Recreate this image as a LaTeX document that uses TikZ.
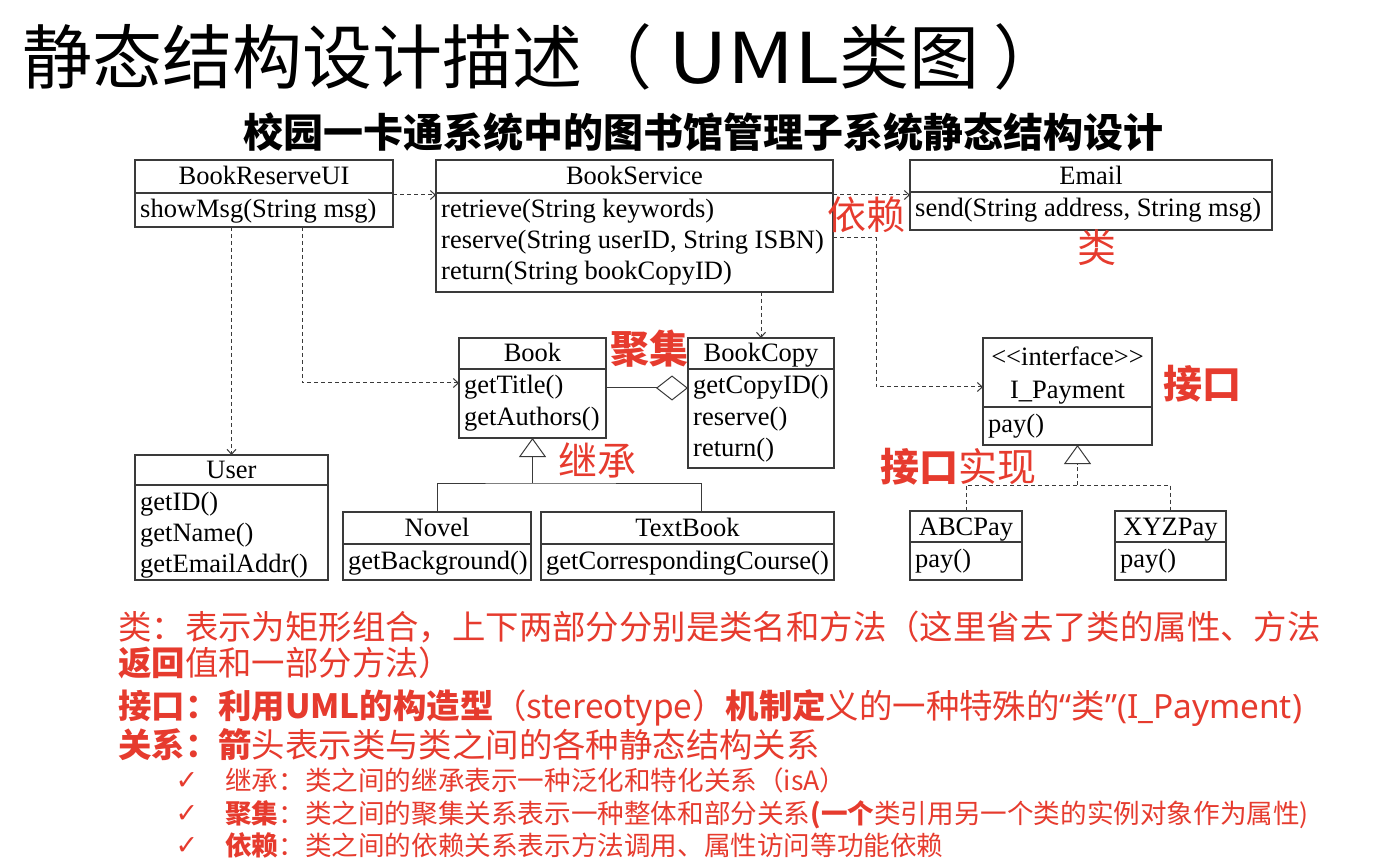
\documentclass[tikz,border=0pt]{standalone}
\usepackage{fontspec}
\setmainfont{Liberation Serif}
\newfontfamily\cjk{Noto Sans CJK SC}
\newfontfamily\latinsans{Noto Sans}
\newfontfamily\symfont{DejaVu Sans}
\usetikzlibrary{arrows.meta,calc}
\definecolor{notered}{HTML}{E63B2E}
\definecolor{boxgray}{HTML}{3A3A3A}

\tikzset{
  classbox/.style={draw=boxgray, line width=1.2pt, inner sep=0pt, outer sep=0pt, fill=white},
  divider/.style={draw=boxgray, line width=1.2pt},
  umltext/.style={font=\fontsize{26.5}{31}\selectfont, inner sep=0pt, text=black},
  umlname/.style={umltext, text height=18pt, text depth=1pt},
  conn/.style={draw=boxgray, line width=1pt},
  dep/.style={conn, dash pattern=on 4pt off 3pt, -{Straight Barb[length=5pt,width=9pt]}},
  gen/.style={conn, -{Triangle[open,fill=white,length=19pt,width=27pt]}},
  realize/.style={conn, dash pattern=on 4pt off 3pt},
  agg/.style={conn, -{Diamond[open,fill=white,length=32pt,width=25pt]}},
  note/.style={text=notered, font=\cjk\fontsize{39}{44}\selectfont, inner sep=0pt},
  explain/.style={text=notered, font=\cjk\fontsize{33.4}{40}\selectfont, inner sep=0pt, anchor=base west},
  subexplain/.style={text=notered, font=\cjk\fontsize{26.6}{32}\selectfont, inner sep=0pt, anchor=base west},
  tick/.style={text=notered, font=\symfont\fontsize{27}{30}\selectfont, inner sep=0pt},
}

% class box: name, left, top, right, divider, bottom, class name, methods
\newcommand{\umlclass}[8]{%
  \node[classbox, anchor=north west, minimum width={(#4)-(#2)}, minimum height={(#6)-(#3)}] (#1) at (#2,#3) {};
  \draw[divider] (#1.west |- 0,#5) -- (#1.east |- 0,#5);
  \node[umlname] (#1-name) at ({(#2+#4)/2},{(#3+#5)/2}) {#7};
  \foreach \m [count=\i] in {#8}
    \node[umltext, anchor=base west] (#1-m\i) at ({#2+5},{#5+25+31*(\i-1)}) {\m};
}

\begin{document}
\begin{tikzpicture}[x=1pt, y=-1pt]
\useasboundingbox (0,0) rectangle (1400,866);

% headings
\node[font=\cjk\fontsize{70}{80}\selectfont, anchor=west, inner sep=0pt] (title) at (22,57)
  {静态结构设计描述（\hspace{16pt}\scalebox{1.18}[1]{UML}类图\hspace{14pt}）};
\node[font=\cjk\bfseries\fontsize{40}{44}\selectfont, inner sep=0pt] (subtitle) at (703,132) {校园一卡通系统中的图书馆管理子系统静态结构设计};

% classes
\umlclass{bru}{135}{160}{393}{193}{227}{BookReserveUI}{showMsg(String msg)}
\umlclass{bs}{436}{160}{833}{193}{292}{BookService}{retrieve(String keywords),{reserve(String userID, String ISBN)},return(String bookCopyID)}
\umlclass{email}{910}{160}{1272}{192}{230}{Email}{{send(String address, String msg)}}
\umlclass{book}{459}{338}{606}{369}{438}{Book}{getTitle(),getAuthors()}
\umlclass{bc}{688}{338}{834}{369}{468}{BookCopy}{getCopyID(),reserve(),return()}
\umlclass{pay}{983}{338}{1152}{407}{445}{}{pay()}
\node[umlname] (pay-stereo) at (1067.5,357) {<\kern0pt<interface>\kern0pt>};
\node[umlname] (pay-title) at (1067.5,390) {I\_Payment};
\umlclass{user}{135}{455}{328}{485}{580}{User}{getID(),getName(),getEmailAddr()}
\umlclass{novel}{343}{512}{531}{544}{580}{Novel}{getBackground()}
\umlclass{tb}{541}{512}{834}{544}{580}{TextBook}{getCorrespondingCourse()}
\umlclass{abc}{910}{511}{1022}{542}{580}{ABCPay}{pay()}
\umlclass{xyz}{1115}{511}{1226}{542}{580}{XYZPay}{pay()}

% dependencies
\draw[dep] ($(bru.north east)+(0,35)$) -- ($(bs.north west)+(0,35)$);
\draw[dep] ($(bs.north east)+(0,35)$) -- ($(email.north west)+(0,35)$);
\draw[dep] ($(bs.north east)+(0,78)$) -- ++(43,0) |- ($(pay.north west)+(0,49)$);
\draw[dep] (bs.south -| bc.north) -- (bc.north);
\draw[dep] ($(bru.south)+(38,0)$) |- ($(book.north west)+(0,45)$);
\draw[dep] (bru.south -| user.north) -- (user.north);

% aggregation
\draw[agg] ($(book.north east)+(0,50)$) -- ($(bc.north west)+(0,50)$);

% generalization
\coordinate (genj) at ($(book.south)+(0,45)$);
\draw[gen] (genj) -- (book.south);
\draw[conn] (novel.north) |- (genj) -| ($(tb.north)+(14,0)$);

% realization
\coordinate (realtip) at ($(pay.south)+(10,0)$);
\coordinate (realj) at ($(realtip)+(0,40)$);
\draw[realize, -{Triangle[open,fill=white,length=19pt,width=27pt]}] (realj) -- (realtip);
\draw[realize] (abc.north) |- (realj) -| (xyz.north);

% red annotations
\node[note] (n-dep) at (866,215) {依赖};
\node[note] (n-class) at (1097,248) {类};
\node[note, font=\cjk\bfseries\fontsize{39}{44}\selectfont] (n-agg) at (649,349) {聚集};
\node[note] (n-gen) at (597,460) {继承};
\node[note, font=\cjk\bfseries\fontsize{39}{44}\selectfont] (n-if) at (1202,384) {接口};
\node[note] (n-real) at (958,467) {{\bfseries 接口}实现};

% explanation text
\node[explain] (e1) at (118,639) {类：表示为矩形组合，上下两部分分别是类名和方法（这里省去了类的属性、方法};
\node[explain] (e2) at (118,675) {{\bfseries 返回}值和一部分方法）};
\node[explain] (e3) at (118,718) {{\bfseries 接口：利用UML的构造型}（stereotype）{\bfseries 机制定}义的一种特殊的{\latinsans “}类{\latinsans ”(I\_Payment)}};
\node[explain] (e4) at (118,757) {{\bfseries 关系：箭}头表示类与类之间的各种静态结构关系};

\node[tick] (t1) at (187,781) {✓};
\node[tick] (t2) at (187,814) {✓};
\node[tick] (t3) at (187,846) {✓};
\node[subexplain] (s1) at (225,790) {继承：类之间的继承表示一种泛化和特化关系（isA）};
\node[subexplain] (s2) at (225,823) {{\bfseries 聚集}：类之间的聚集关系表示一种整体和部分关系{\bfseries (一个}类引用另一个类的实例对象作为属性)};
\node[subexplain] (s3) at (225,855) {{\bfseries 依赖}：类之间的依赖关系表示方法调用、属性访问等功能依赖};
\end{tikzpicture}
\end{document}
